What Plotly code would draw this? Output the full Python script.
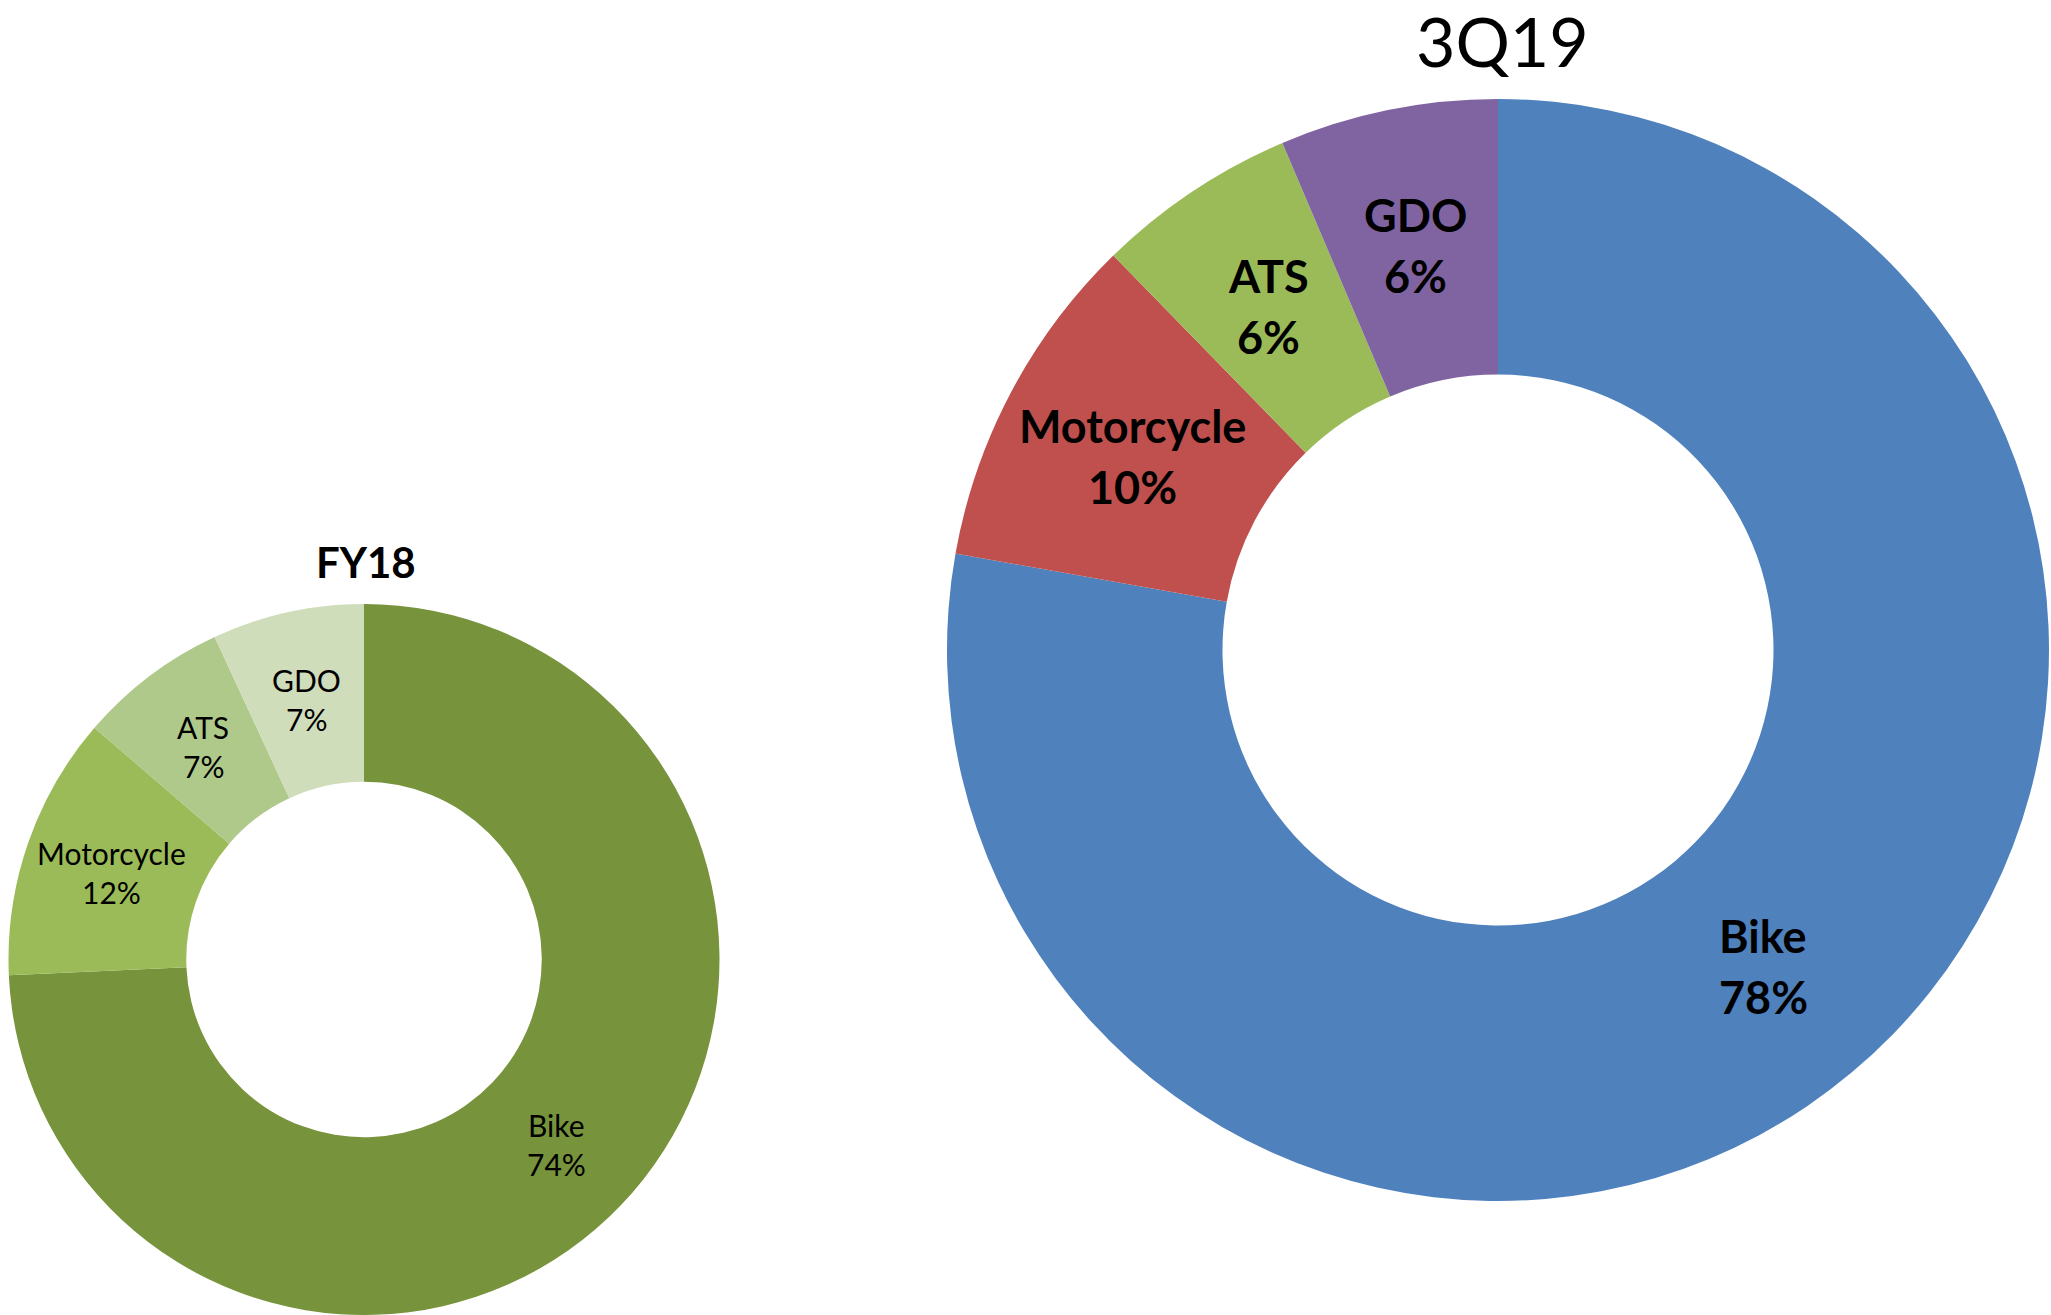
import math
import plotly.graph_objects as go

categories = ["Bike", "Motorcycle", "ATS", "GDO"]
fy18_values = [74.3, 12.0, 6.8, 6.9]
q319_values = [77.8, 9.9, 5.9, 6.4]
fy18_colors = ["#77933C", "#9BBB59", "#AFC98B", "#D0DDBB"]
q319_colors = ["#4F81BD", "#C0504D", "#9BBB59", "#8064A2"]
titles = ["FY18", "3Q19"]

W, H = 2051, 1315
FONT = "Lato, 'Open Sans', sans-serif"
HOLE = 0.5

charts = [
    dict(values=fy18_values, colors=fy18_colors, cx=364, cy=960, R=356,
         size=30, bold=False, gap=39),
    dict(values=q319_values, colors=q319_colors, cx=1498, cy=650, R=551,
         size=45, bold=True, gap=61),
]

fig = go.Figure()
for c in charts:
    cx, cy, R = c["cx"], c["cy"], c["R"]
    fig.add_trace(go.Pie(
        labels=categories, values=c["values"], sort=False, direction="clockwise",
        rotation=0, hole=HOLE,
        marker=dict(colors=c["colors"], line=dict(width=0)),
        textinfo="none",
        domain=dict(x=[(cx - R) / W, (cx + R) / W],
                    y=[max(0, (H - cy - R) / H), min(1, (H - cy + R) / H)]),
        showlegend=False, hoverinfo="label+percent",
    ))
    total = sum(c["values"])
    cum = 0
    rmid = R * (1 + HOLE) / 2
    for lab, v in zip(categories, c["values"]):
        mid = (cum + v / 2) / total * 2 * math.pi
        cum += v
        px = cx + rmid * math.sin(mid)
        py = cy - rmid * math.cos(mid)
        pct = f"{round(v / total * 100)}%"
        for txt, dy in ((lab, -c["gap"] / 2), (pct, c["gap"] / 2)):
            t = f"<b>{txt}</b>" if c["bold"] else txt
            fig.add_annotation(text=t, x=px / W, y=1 - (py + dy) / H,
                               xref="paper", yref="paper", showarrow=False,
                               xanchor="center", yanchor="middle",
                               font=dict(family=FONT, size=c["size"], color="#000000"))

fig.add_annotation(text="<b>" + titles[0] + "</b>", x=366 / W, y=1 - 562 / H,
                   xref="paper", yref="paper", showarrow=False,
                   xanchor="center", yanchor="middle",
                   font=dict(family=FONT, size=42, color="#000000"))
fig.add_annotation(text=titles[1], x=1502 / W, y=1 - 40 / H,
                   xref="paper", yref="paper", showarrow=False,
                   xanchor="center", yanchor="middle",
                   font=dict(family=FONT, size=68, color="#000000"))

fig.update_layout(width=W, height=H, margin=dict(l=0, r=0, t=0, b=0),
                  paper_bgcolor="white", plot_bgcolor="white")
fig.write_html("out.html", config={"displayModeBar": False},
               post_script="document.body.style.margin='0';document.body.style.padding='0';")
